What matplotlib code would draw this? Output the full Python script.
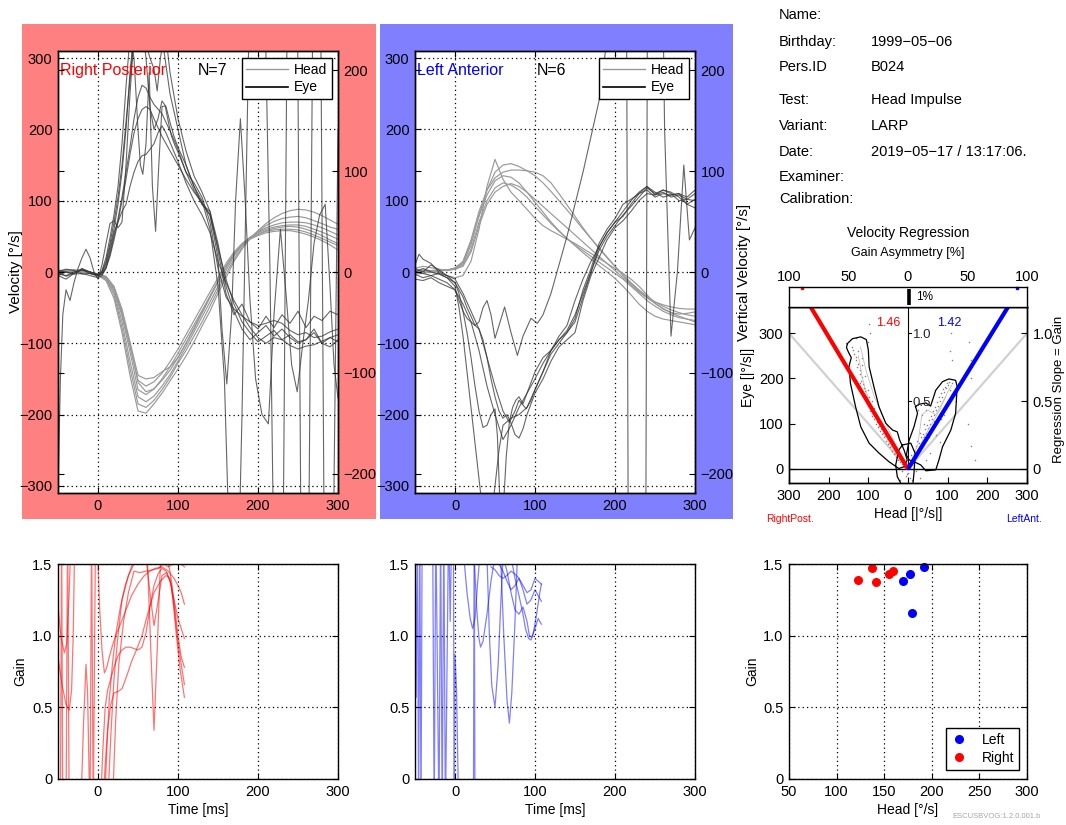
import matplotlib
matplotlib.use('Agg')
import matplotlib.pyplot as plt
from matplotlib.patches import Rectangle
from matplotlib.lines import Line2D

# ---------------------------------------------------------------- data
info_labels = ['Name:', 'Birthday:', 'Pers.ID', 'Test:', 'Variant:', 'Date:', 'Examiner:', 'Calibration:']
info_values = ['', '1999\u221205\u221206', 'B024', 'Head Impulse', 'LARP', '2019\u221205\u221217 / 13:17:06.', '', '']

T = list(range(-50, 301, 10))  # common time grid [ms]

# Right posterior (panel 1) head velocity traces [deg/s]
rp_head = [
    [1,2,3,2,-1,-5,-12,-37,-85,-145,-195,-198,-185,-170,-153,-136,-118,-98,-76,-55,-30,-8,15,32,47,58,68,76,82,86,88,87,84,79,73,67],
    [-2,0,1,0,-2,-5,-10,-32,-78,-135,-185,-190,-180,-165,-148,-128,-110,-90,-70,-48,-25,-3,18,34,47,57,65,71,75,77,78,76,72,68,63,60],
    [0,1,2,1,-1,-4,-9,-28,-70,-125,-175,-182,-174,-160,-144,-125,-105,-84,-63,-42,-20,2,22,37,48,56,62,66,69,70,70,69,66,62,57,52],
    [2,3,2,1,0,-3,-8,-25,-62,-112,-165,-172,-164,-150,-133,-114,-94,-74,-54,-34,-13,8,26,39,49,55,60,63,65,66,66,64,60,56,51,46],
    [-1,0,1,0,-2,-4,-7,-22,-58,-105,-152,-160,-154,-142,-126,-108,-88,-68,-48,-28,-8,12,28,40,48,53,57,59,60,60,59,56,52,47,42,37],
    [1,1,2,1,-1,-3,-6,-20,-52,-98,-145,-150,-148,-140,-133,-120,-100,-80,-58,-36,-14,6,24,37,46,51,55,57,58,58,56,53,49,44,38,31],
    [0,2,3,2,0,-3,-7,-23,-55,-100,-155,-168,-164,-152,-138,-120,-100,-78,-56,-34,-12,8,26,38,47,53,58,61,63,64,63,60,56,51,45,40],
]

# Right posterior eye velocity traces: (time, value)
rp_eye = [
    ([-50,-40,-30,-20,-10,0,5,10,15,20,25,30,35,40,45,50,55,60,65,70,80,90,100,110,120,130,140,150,160,170,180,190,200,210,220,230,240,250,260,270,280,290,300],
     [2,0,-3,-2,-5,-8,-5,5,25,50,75,105,140,175,215,245,262,258,245,235,222,198,172,140,125,105,70,5,-35,-52,-62,-70,-75,-72,-68,-72,-82,-88,-85,-92,-90,-84,-80]),
    ([-50,-40,-30,-20,-10,0,5,10,15,20,25,30,35,40,45,50,55,60,65,70,75,80,85,90,100,110,120,130,140,150,160,170,180,190,200,210,220,230,240,250,260,270,280,290,300],
     [-5,0,-2,3,0,-4,-2,8,30,55,70,85,95,120,140,155,163,165,172,180,195,205,195,182,155,125,100,80,55,15,-15,-40,-60,-78,-92,-100,-92,-95,-103,-108,-104,-102,-97,-92,-88]),
    ([-50,-40,-30,-20,-10,0,5,10,15,20,25,30,35,40,45,50,55,60,65,70,74,78,84,90,100,110,120,130,140,150,160,170,180,190,200,210,220,230,240,250,260,270,280,290,300],
     [0,4,2,-3,-2,-6,0,15,40,70,105,150,210,270,330,360,350,320,300,285,254,300,340,280,215,170,135,112,85,30,-30,-60,-45,-70,-80,-62,-78,-60,-72,-55,-78,-62,-68,-55,-60]),
    ([-50,-40,-30,-20,-10,0,5,10,15,20,25,30,35,40,45,50,53,56,60,64,68,72,76,80,84,88,92,96,100,110,120,130,140,150,155,161,167,172,178,184,190,197,205,213,220,228,235,242,249,256,263,270,277,284,290,295,300],
     [-3,-5,0,3,-2,-4,2,20,48,80,120,180,260,330,300,200,150,137,180,280,120,57,150,232,233,210,190,178,168,140,115,95,80,20,-80,-157,-60,100,215,100,-40,-150,-200,-213,-60,60,-30,-130,-168,-100,-40,40,80,95,-20,-130,-177]),
    ([-50,-47,-44,-40,-35,-30,-25,-20,-15,-10,-5,0,5,10,15,20,25,30,35,40,45,50,55,60,65,70,75,80,85,90,95,100,110,120,130,140,150,160,170,180,190,200,210,220,230,240,250,260,270,280,290,300],
     [-310,-150,-60,-25,-40,-15,5,20,32,20,0,-10,10,40,68,72,62,70,150,250,330,380,350,300,230,200,215,240,232,210,190,175,150,120,95,85,40,-20,-55,-80,-95,-85,-75,-90,-80,-92,-100,-95,-85,-100,-105,-95]),
    ([-50,-40,-30,-20,-10,0,5,10,15,20,25,30,35,40,50,60,70,80,90,100,110,120,130,140,150,158,165,172,180,188,195,205,215,222,230,238,248,255,262,270,277,284,292,300],
     [-5,-10,-2,5,0,-3,0,12,35,60,95,140,200,280,400,420,380,330,250,200,150,120,100,60,-20,-150,-420,-600,-200,300,600,600,0,-600,-600,600,600,-600,-600,600,600,-600,-600,200]),
    ([-50,-40,-30,-20,-10,0,5,10,15,20,25,30,35,40,45,50,55,60,65,70,80,90,100,110,120,130,140,150,160,170,180,190,200,210,220,230,240,250,260,270,280,290,300],
     [0,-6,-2,4,0,-5,-3,6,22,45,70,100,130,165,195,215,228,232,228,215,190,170,150,130,112,98,80,35,-10,-45,-70,-85,-98,-90,-82,-95,-88,-98,-95,-80,-100,-92,-98]),
]

# Left anterior (panel 2) head velocity traces
la_head = [
    [0,2,0,-2,-5,-8,-5,15,60,120,158,130,112,100,88,75,65,58,52,46,40,33,26,19,12,5,-2,-10,-20,-32,-44,-52,-57,-59,-58,-56],
    [0,0,2,3,3,5,12,38,80,115,140,150,152,148,142,135,125,113,100,87,74,60,47,34,21,8,-5,-16,-27,-36,-44,-51,-57,-62,-66,-70],
    [-3,-2,0,1,3,5,15,45,85,115,132,140,143,143,142,140,135,125,110,94,78,62,47,33,20,8,-4,-15,-25,-34,-42,-48,-53,-57,-60,-62],
    [2,3,2,2,3,4,8,28,65,95,112,120,124,120,112,102,92,82,72,62,52,42,32,22,12,2,-8,-18,-28,-36,-42,-46,-49,-51,-52,-52],
    [0,1,1,2,2,4,10,32,70,100,118,125,122,115,105,92,80,68,57,47,38,30,22,14,6,-2,-10,-20,-30,-40,-48,-55,-60,-64,-66,-68],
    [5,8,6,4,2,6,14,42,78,108,128,135,133,125,112,98,84,70,58,47,37,27,18,9,0,-9,-20,-32,-45,-55,-62,-66,-68,-70,-72,-74],
]

# Left anterior eye velocity traces
la_eye = [
    ([-50,-40,-30,-20,-10,0,10,20,30,40,50,60,70,80,90,100,110,120,130,140,150,160,170,180,190,200,210,220,230,240,250,260,270,280,290,300],
     [-3,-8,-5,-10,-15,-25,-45,-70,-110,-160,-200,-235,-215,-190,-170,-150,-128,-110,-95,-82,-60,-30,0,30,50,65,80,92,105,118,110,115,110,100,102,110]),
    ([-50,-45,-40,-30,-20,-10,0,5,10,15,20,25,30,35,40,45,50,55,60,65,70,75,80,85,90,95,100,110,120,130,140,150,160,170,180,190,200,210,220,230,240,250,260,270,280,290,300],
     [10,25,18,12,0,-5,-15,-25,-35,-50,-62,-75,-80,-95,-120,-150,-175,-195,-205,-200,-212,-228,-233,-220,-200,-185,-170,-150,-125,-105,-95,-85,-40,-5,20,45,62,72,85,100,110,108,112,105,108,102,100]),
    ([-50,-40,-30,-20,-10,0,5,10,15,20,25,30,35,40,45,50,55,60,65,70,80,90,100,110,120,130,140,150,160,170,180,190,200,210,220,230,240,250,260,270,280,290,300],
     [0,5,0,-3,-8,-20,-50,-90,-140,-190,-240,-290,-340,-380,-350,-300,-250,-215,-210,-205,-200,-190,-165,-140,-110,-90,-75,-40,-10,15,35,55,70,85,100,112,120,112,105,108,110,95,90]),
    ([-50,-40,-30,-20,-10,0,5,10,15,20,25,30,35,40,45,50,55,62,70,78,85,95,103,110,120,130,140,150,160,170,180,187,195,205,214,217,238,241,258,262,270,278,286,293,300],
     [-10,-12,-8,-15,-20,-25,-40,-55,-65,-70,-75,-70,-50,-40,-60,-93,-75,-49,-85,-117,-90,-65,-72,-60,-30,10,50,95,140,190,240,300,380,450,550,-550,-550,550,550,200,-90,0,150,45,62]),
    ([-50,-40,-30,-20,-10,0,5,10,15,20,25,30,35,40,45,50,53,56,60,64,68,72,76,80,85,90,95,100,110,120,130,140,150,160,170,180,190,200,210,220,230,240,250,260,270,280,290,300],
     [0,-2,-5,-2,-8,-15,-30,-55,-85,-120,-160,-195,-218,-215,-200,-192,-230,-320,-340,-260,-210,-190,-180,-175,-185,-170,-155,-140,-120,-110,-95,-85,-70,-35,0,35,55,70,78,95,110,120,108,115,112,105,95,102]),
    ([-50,-40,-30,-20,-10,0,10,20,30,40,50,60,68,75,80,89,95,100,110,120,130,140,150,160,170,180,190,200,210,220,230,240,250,260,270,280,290,300],
     [5,0,10,3,-5,-10,-30,-55,-80,-120,-160,-195,-211,-195,-180,-192,-180,-165,-140,-115,-100,-85,-65,-25,5,40,60,75,95,102,110,115,105,110,108,110,105,115]),
]

# Gain vs time traces, right posterior (red)
rp_gain = [
    ([-50,-46,-42,-39,-36,-33], [1.2,0.98,0.88,0.95,1.3,1.8]),
    ([-50,-45,-40,-36,-33,-31,-29], [0.85,0.66,0.52,0.48,0.62,1.0,1.7]),
    ([-47,-45.5,-44,-40,-38,-36], [-0.3,1.8,-0.3,-0.3,1.8,-0.3]),
    ([-22,-18,-15,-13,-10,-8,-6,-3], [-0.3,0.4,0.8,0.6,-0.3,1.8,-0.3,1.8]),
    ([-2,2,5,8,11,14,18,22,28,35,42,50,58,65,72,80,88,95,100,104,108],
     [1.8,1.2,0.9,0.74,0.78,0.85,0.93,1.0,1.08,1.18,1.28,1.36,1.42,1.45,1.47,1.48,1.45,1.4,1.35,1.3,1.22]),
    ([3,6,9,12,16,20,25,30,35,40,45,50,55,60,65,70,75,80,85,90,95,100,104,108],
     [-0.2,0.2,0.5,0.62,0.7,0.78,0.86,0.9,0.92,0.92,0.91,0.9,0.92,1.02,1.2,1.35,1.43,1.47,1.45,1.38,1.25,1.12,1.05,0.98]),
    ([6,9,12,16,20,25,30,36,42,48,55,62,70,78,85,90,95,100,104,108],
     [-0.2,0.1,0.35,0.52,0.6,0.61,0.63,0.72,0.82,0.9,1.0,1.15,1.3,1.38,1.42,1.4,1.2,0.95,0.8,0.66]),
    ([8,11,14,18,22,28,34,40,46,52,58,62,66,70,74,78,84,90,96,100,104,108],
     [-0.2,0.2,0.55,0.8,1.0,1.2,1.35,1.45,1.55,1.5,1.5,1.5,0.9,0.34,0.9,1.5,1.6,1.45,1.2,1.0,0.85,0.78]),
    ([12,16,20,25,30,38,45,52,60,66,70,74,80,86,92,98,103,108],
     [-0.2,0.3,0.7,1.0,1.25,1.42,1.5,1.6,1.55,1.25,1.07,1.2,1.42,1.44,1.35,1.0,0.75,0.57]),
    ([18,22,26,32,38,45,52,60,68,76,82,88,94,100,104,108],
     [-0.2,0.4,0.8,1.1,1.3,1.45,1.44,1.45,1.46,1.47,1.5,1.48,1.5,1.55,1.5,1.48]),
]

# Gain vs time traces, left anterior (blue)
la_gain = [
    ([-50,-48.5,-47,-45.5,-44,-42.5,-41], [1.8,0.57,1.8,-0.3,1.8,-0.3,1.8]),
    ([-28,-26,-24,-20,-18,-16,-14,-12,-10,-8,-6,-4], [1.8,-0.3,1.8,-0.3,1.8,-0.3,1.8,-0.3,0.75,1.8,1.1,1.8]),
    ([-2,-1,0,2,4.5], [1.8,-0.3,0.87,0.6,-0.2]),
    ([23,24,25], [-0.3,1.8,-0.3]),
    ([11,15,19,22,25,28,31], [1.55,1.3,1.12,1.05,1.12,1.35,1.55]),
    ([24,27,30,32,35,40,45,49], [1.55,1.2,0.98,0.92,0.96,1.15,1.38,1.52]),
    ([40,43,46,50,54,57,60], [1.55,1.0,0.65,0.5,0.8,1.2,1.55]),
    ([57,61,65,68,71,75,78], [1.55,1.0,0.55,0.39,0.6,1.1,1.55]),
    ([45,50,55,60,65,70,75,80,85,90,95,100,104,108], [1.48,1.46,1.42,1.4,1.42,1.45,1.43,1.4,1.35,1.3,1.32,1.4,1.38,1.36]),
    ([50,55,60,65,70,75,80,85,90,95,100,104,108], [1.55,1.5,1.45,1.38,1.32,1.35,1.4,1.32,1.22,1.25,1.32,1.28,1.24]),
    ([60,65,70,75,80,85,90,93,96,100,104,108], [1.55,1.45,1.3,1.18,1.15,1.2,1.1,1.0,0.99,1.05,1.12,1.08]),
    ([70,75,80,85,88,92,95,98,102,106,108], [1.55,1.4,1.28,1.15,1.05,0.98,0.97,1.02,1.15,1.3,1.36]),
]

# Velocity regression
gain_right = 1.46
gain_left = 1.42
asym_pct = 1
left_blob_x = [-153,-140,-119,-105,-100,-98,-86,-73,-56,-39,-27,-21,-10,-2,-10,-23,-48,-73,-98,-119,-132,-145,-149,-143,-150,-155,-153]
left_blob_y = [277,288,292,286,263,226,182,137,101,86,82,64,42,20,5,1,16,35,57,93,137,189,226,246,258,268,277]
right_blob_x = [19,28,45,57,70,87,103,120,124,120,108,87,78,70,45,32,15,3,-4,3,15,24,19]
right_blob_y = [138,143,146,139,174,193,199,196,182,123,86,49,20,-2,-4,9,16,20,31,64,93,123,138]
center_blob_x = [-14,7,18,15,11,-10,-27,-31,-23,-14]
center_blob_y = [53,57,35,-10,-45,-45,-17,9,42,53]
dots_x = [-140,-135,-130,-128,-120,-118,-112,-110,-105,-100,-95,-90,-85,-80,-75,-70,-65,-60,-55,-50,-45,-40,-35,-30,-25,-20,-15,-10,
          -125,-115,-108,-100,-92,-85,-78,-70,-62,-55,-48,-40,-115,-98,-82,-68,-120,-105,-88,-72,-58,-100,-95,-98,-130,
          -138,-132,-126,-122,-116,-113,-109,-104,-97,-93,-89,-84,-79,-74,-69,-64,-59,-53,-47,-43,-37,-33,-28,-22,-18,-12,-7,
          10,15,20,25,30,35,40,45,50,55,60,65,70,75,80,85,90,95,100,105,110,20,30,40,35,45,60,70,80,90,100,110,25,120,150,160,170,
          12,18,24,28,33,38,43,48,53,58,63,68,73,78,83,88,93,98,103,8,16,22,52,66,84,96,
          155,158,160,45,55,108,110,106,112,0,5,-5,10,-15,20,30,-20,-8,8,-3,14,-12]
dots_y = [270,255,240,225,210,195,180,165,150,140,128,118,110,100,92,85,78,70,62,55,48,40,32,26,20,15,10,5,
          260,230,205,175,150,135,120,105,90,80,68,55,245,160,125,95,190,160,130,100,75,280,300,320,290,
          262,248,232,218,203,188,172,158,144,132,122,114,104,96,88,80,72,66,58,50,44,36,30,22,18,12,8,
          10,20,30,40,50,60,70,80,90,100,110,120,130,140,150,160,170,180,185,175,165,50,80,100,120,130,90,75,60,120,150,190,130,150,100,50,20,
          22,35,45,58,70,78,88,98,108,118,128,138,148,158,168,176,182,190,192,15,40,62,70,105,110,140,
          280,240,200,20,35,300,330,260,240,-10,-20,-15,-25,-5,-5,-20,-25,12,30,-12,8,22]
trace_l1 = ([0,-20,-45,-70,-95,-115,-125], [0,20,55,95,140,200,250])
trace_l2 = ([0,-15,-35,-60,-85,-105,-120], [0,25,60,110,160,215,270])
trace_r1 = ([0,20,40,60,80,100,110], [0,30,70,100,130,170,185])
trace_r2 = ([0,25,35,50,70,95], [0,55,120,130,120,160])

# Gain vs head velocity
left_head = [170.1, 177.1, 192.2, 179.6]
left_gain_pts = [1.379, 1.43, 1.477, 1.155]
right_head = [122.7, 137.4, 140.9, 154.6, 159.2]
right_gain_pts = [1.39, 1.472, 1.376, 1.428, 1.451]

# ---------------------------------------------------------------- style
plt.rcParams['font.family'] = ['Liberation Sans', 'DejaVu Sans']
plt.rcParams['axes.unicode_minus'] = True
W, H = 1066, 825
fig = plt.figure(figsize=(W / 100, H / 100), dpi=100)
fig.patch.set_facecolor('white')

HEAD_C = '0.6'
EYE_C = '0.2'
TICK_FS = 10.5
GRID = dict(color='k', linestyle=(0, (1, 2.5)), linewidth=0.9)


def fx(x):
    return x / W


def fy(y):
    return 1 - y / H


def rect(x0, y0, x1, y1):
    return [fx(x0), fy(y1), (x1 - x0) / W, (y1 - y0) / H]


def style_ax(ax):
    for s in ax.spines.values():
        s.set_linewidth(1.0)
        s.set_color('k')
    ax.tick_params(direction='in', length=4, labelsize=TICK_FS, width=0.8, pad=4)


# panel backgrounds (drawn below all axes)
fig.patches.append(Rectangle((fx(22), fy(519)), (376 - 22) / W, (519 - 24) / H,
                             transform=fig.transFigure, facecolor='#FF8080', edgecolor='none', zorder=-10))
fig.patches.append(Rectangle((fx(380), fy(519)), (733 - 380) / W, (519 - 24) / H,
                             transform=fig.transFigure, facecolor='#8080FF', edgecolor='none', zorder=-10))


def velocity_panel(x0, heads, eyes, title, tcolor, ntext, nx):
    ax = fig.add_axes(rect(x0, 51, x0 + 280, 493))
    for v in heads:
        ax.plot(T, v, color=HEAD_C, lw=0.85)
    for t, v in eyes:
        ax.plot(t, v, color=EYE_C, lw=0.8, alpha=0.75)
    ax.set_xlim(-50, 300)
    ax.set_ylim(-310, 310)
    ax.set_xticks([0, 100, 200, 300])
    ax.set_yticks([-300, -200, -100, 0, 100, 200, 300])
    ax.grid(True, **GRID)
    style_ax(ax)
    ax.tick_params(axis='y', right=True)
    ax.tick_params(axis='x', top=True)
    ax2 = ax.twinx()
    ax2.set_ylim(-310 / 1.416, 310 / 1.416)
    ax2.set_yticks([-200, -100, 0, 100, 200])
    style_ax(ax2)
    ax2.tick_params(axis='y', left=True, right=True, labelleft=False, labelright=True)
    ax.text(0.008, 0.957, title, color=tcolor, transform=ax.transAxes, fontsize=11.5, va='center', ha='left')
    ax.text(nx, 0.957, ntext, color='k', transform=ax.transAxes, fontsize=11.5, va='center', ha='left')
    handles = [Line2D([], [], color=HEAD_C, lw=1.0), Line2D([], [], color='k', lw=1.2)]
    leg = ax2.legend(handles, ['Head', 'Eye'], loc='upper right', bbox_to_anchor=(0.9775, 0.984),
                     borderaxespad=0, fancybox=False, framealpha=1, edgecolor='k', fontsize=10,
                     handlelength=3.0, handletextpad=0.4, borderpad=0.35, labelspacing=0.25)
    leg.get_frame().set_linewidth(1.0)
    return ax, ax2


ax1, ax1b = velocity_panel(58, rp_head, rp_eye, 'Right Posterior', 'red', 'N=7', 0.5)
ax1.set_ylabel('Velocity [\u00b0/s]', fontsize=11)
ax1.yaxis.set_label_coords(-0.125, 0.5)
ax2, ax2b = velocity_panel(415, la_head, la_eye, 'Left Anterior', 'blue', 'N=6', 0.435)
ax2b.set_ylabel('Vertical Velocity [\u00b0/s]', fontsize=11)
ax2b.yaxis.set_label_coords(1.150, 0.5)


def gain_panel(x0, traces, color, alpha):
    ax = fig.add_axes(rect(x0, 564, x0 + 280, 779))
    for t, g in traces:
        ax.plot(t, g, color=color, lw=0.9, alpha=alpha)
    ax.set_xlim(-50, 300)
    ax.set_ylim(0, 1.5)
    ax.set_xticks([0, 100, 200, 300])
    ax.set_yticks([0, 0.5, 1.0, 1.5])
    ax.set_yticklabels(['0', '0.5', '1.0', '1.5'])
    ax.grid(True, **GRID)
    style_ax(ax)
    ax.tick_params(top=True, right=True)
    ax.set_xlabel('Time [ms]', fontsize=10)
    ax.xaxis.set_label_coords(0.5, -0.112)
    return ax


ga = gain_panel(58, rp_gain, 'red', 0.55)
ga.set_ylabel('Gain', fontsize=10)
ga.yaxis.set_label_coords(-0.111, 0.5)
gb = gain_panel(415, la_gain, 'blue', 0.5)

# ---------------- regression panel
ytop = 358
axr = fig.add_axes(rect(789, 307, 1027, 483))
axr.set_xlim(-300, 300)
axr.set_ylim(-31, ytop)
axr.plot([0, -300], [0, 300], color='0.82', lw=1.6, zorder=1)
axr.plot([0, 300], [0, 300], color='0.82', lw=1.6, zorder=1)
axr.scatter(dots_x, dots_y, s=1.2, color='0.5', zorder=2, linewidths=0)
for tx, ty in (trace_l1, trace_l2, trace_r1, trace_r2):
    axr.plot(tx, ty, color='0.75', lw=0.6, zorder=2)
axr.plot(left_blob_x, left_blob_y, color='k', lw=0.9, zorder=3)
axr.plot(right_blob_x, right_blob_y, color='k', lw=0.9, zorder=3)
axr.plot(center_blob_x, center_blob_y, color='k', lw=0.9, zorder=3)
axr.axhline(0, color='k', lw=1.0, zorder=4)
axr.plot([0, 0], [0, ytop], color='k', lw=0.8, zorder=4)
axr.plot([0, -ytop / gain_right], [0, ytop], color='red', lw=3, zorder=5, solid_capstyle='butt')
axr.plot([0, ytop / gain_left], [0, ytop], color='blue', lw=3, zorder=5, solid_capstyle='butt')
axr.text(-20, 322, f'{gain_right:.2f}', color='red', fontsize=9, ha='right', va='center')
axr.text(73, 322, f'{gain_left:.2f}', color='blue', fontsize=9, ha='left', va='center')
for g in (0.5, 1.0):
    axr.plot([0, 7], [g * 300, g * 300], color='k', lw=0.8, zorder=4)
    axr.text(12, g * 300 - 4, f'{g:.1f}', fontsize=9.5, ha='left', va='center', color='0.15')
axr.set_xticks([-300, -200, -100, 0, 100, 200, 300])
axr.set_xticklabels(['300', '200', '100', '0', '100', '200', '300'])
axr.set_yticks([0, 100, 200, 300])
style_ax(axr)
axr.tick_params(axis='x', top=False)
axr.set_xlabel('Head [|\u00b0/s|]', fontsize=10)
axr.xaxis.set_label_coords(0.5, -0.136)
axr.set_ylabel('Eye [|\u00b0/s|]', fontsize=10)
axr.yaxis.set_label_coords(-0.143, 0.602)
axr2 = axr.twinx()
axr2.set_ylim(-31 / 300, ytop / 300)
axr2.set_yticks([0, 0.5, 1.0])
axr2.set_yticklabels(['0', '0.5', '1.0'])
style_ax(axr2)
axr2.set_ylabel('Regression Slope = Gain', fontsize=9.5)
axr2.yaxis.set_label_coords(1.109, 0.534)

axs = fig.add_axes(rect(789, 287, 1027, 307))
axs.set_xlim(-100, 100)
axs.set_ylim(0, 1)
axs.plot([asym_pct, asym_pct], [0.12, 0.88], color='k', lw=2.6, solid_capstyle='butt')
axs.text(asym_pct + 6, 0.5, f'{asym_pct}%', fontsize=8.5, va='center', ha='left')
axs.plot([-89], [0.97], marker='s', ms=2, color='red', clip_on=False)
axs.plot([92], [0.97], marker='s', ms=2, color='blue', clip_on=False)
axs.set_yticks([])
axs.xaxis.tick_top()
axs.set_xticks([-100, -50, 0, 50, 100])
axs.set_xticklabels(['100', '50', '0', '50', '100'])
style_ax(axs)
axs.tick_params(axis='x', pad=2, length=0)

fig.text(fx(908), fy(233), 'Velocity Regression', fontsize=10, ha='center', va='center')
fig.text(fx(908), fy(253), 'Gain Asymmetry [%]', fontsize=9, ha='center', va='center')
fig.text(fx(790), fy(519), 'RightPost.', fontsize=7.5, color='red', ha='center', va='center')
fig.text(fx(1024), fy(519), 'LeftAnt.', fontsize=7.5, color='blue', ha='center', va='center')

# ---------------- gain vs head scatter
axg = fig.add_axes(rect(789, 564, 1027, 779))
axg.plot(left_head, left_gain_pts, 'o', color='blue', ms=5.5, label='Left', clip_on=False)
axg.plot(right_head, right_gain_pts, 'o', color='red', ms=5.5, label='Right', clip_on=False)
axg.set_xlim(50, 300)
axg.set_ylim(0, 1.5)
axg.set_xticks([50, 100, 150, 200, 250, 300])
axg.set_yticks([0, 0.5, 1.0, 1.5])
axg.set_yticklabels(['0', '0.5', '1.0', '1.5'])
axg.grid(True, **GRID)
style_ax(axg)
axg.tick_params(top=True, right=True)
axg.set_xlabel('Head [\u00b0/s]', fontsize=10)
axg.xaxis.set_label_coords(0.5, -0.112)
axg.set_ylabel('Gain', fontsize=10)
axg.yaxis.set_label_coords(-0.126, 0.5)
lg = axg.legend(loc='lower right', bbox_to_anchor=(0.966, 0.042), borderaxespad=0, fancybox=False,
                framealpha=1, edgecolor='k', fontsize=10, handlelength=1.2, handletextpad=1.0,
                borderpad=0.35, labelspacing=0.3)
lg.get_frame().set_linewidth(1.0)
fig.text(fx(997), fy(816), 'ESCUSBVOG:1.2.0.001.b', fontsize=5.5, color='0.65', ha='center', va='center')

# ---------------- info block
info_y = [15, 42, 67, 100, 126, 152, 177, 199]
for lab, val, y in zip(info_labels, info_values, info_y):
    fig.text(fx(779), fy(y), lab, fontsize=10.5, ha='left', va='center')
    if val:
        fig.text(fx(871), fy(y), val, fontsize=10.5, ha='left', va='center')

fig.savefig('out.png', dpi=100, facecolor='white')
